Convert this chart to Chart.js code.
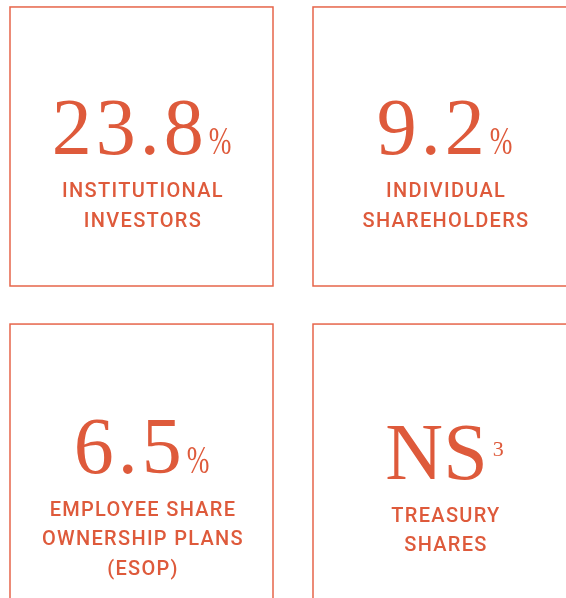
<!DOCTYPE html>
<html>
<head>
<meta charset="utf-8">
<script src="https://cdn.jsdelivr.net/npm/chart.js@4.4.1/dist/chart.umd.min.js"></script>
<style>
  html, body { margin: 0; padding: 0; background: #fff; }
  canvas { display: block; }
</style>
</head>
<body>
<canvas id="sharesChart" width="566" height="598"></canvas>
<script>
// shareholder structure tiles
const categories = [
  ['INSTITUTIONAL', 'INVESTORS'],
  ['INDIVIDUAL', 'SHAREHOLDERS'],
  ['EMPLOYEE SHARE', 'OWNERSHIP PLANS', '(ESOP)'],
  ['TREASURY', 'SHARES']
]
const values = ['23.8', '9.2', '6.5', 'NS']
const suffixes = ['%', '%', '%', '3']
const gridCols = [0, 1, 0, 1]
const gridRows = [0, 0, 1, 1]

const ACCENT = '#de5a3b'
const BORDER = '#e6654a'

// half of a tile in scale units
const TILE_HALF_X = 0.434
const TILE_HALF_Y = 0.44
// small vertical tweaks per tile (px)
const nudge = [0, 0, 1, 7]

const tilesPlugin = {
  id: 'tiles',
  afterDatasetsDraw(chart) {
    const ctx = chart.ctx
    const xs = chart.scales.x
    const ys = chart.scales.y
    const meta = chart.getDatasetMeta(0)

    meta.data.forEach((pt, i) => {
      const col = gridCols[i]
      const row = gridRows[i]
      const left = xs.getPixelForValue(col - TILE_HALF_X)
      const right = xs.getPixelForValue(col + TILE_HALF_X)
      const top = ys.getPixelForValue(row - TILE_HALF_Y)
      const bottom = ys.getPixelForValue(row + TILE_HALF_Y)

      ctx.save()
      ctx.strokeStyle = BORDER
      ctx.lineWidth = 1.5
      ctx.strokeRect(left, top, right - left, bottom - top)

      const cx = pt.x
      const base = pt.y + 8 + nudge[i]
      const isNote = suffixes[i] !== '%'

      // big number
      ctx.fillStyle = ACCENT
      ctx.textBaseline = 'alphabetic'
      ctx.textAlign = 'left'
      ctx.font = '80px "Liberation Serif", serif'
      ctx.letterSpacing = isNote ? '0px' : '4px'
      const numW = ctx.measureText(values[i]).width - (isNote ? 0 : 4)

      let sufW, sufScale, gap
      if (isNote) {
        ctx.font = '22px "Liberation Serif", serif'
        ctx.letterSpacing = '0px'
        sufScale = 1
        sufW = ctx.measureText(suffixes[i]).width
        gap = 5
      } else {
        ctx.font = '40px "Liberation Serif", serif'
        ctx.letterSpacing = '0px'
        sufScale = 0.68
        sufW = ctx.measureText(suffixes[i]).width * sufScale
        gap = 5
      }

      const startX = cx - (numW + gap + sufW) / 2
      ctx.font = '80px "Liberation Serif", serif'
      ctx.letterSpacing = isNote ? '0px' : '4px'
      ctx.fillText(values[i], startX, base)

      ctx.letterSpacing = '0px'
      if (isNote) {
        ctx.font = '22px "Liberation Serif", serif'
        ctx.fillText(suffixes[i], startX + numW + gap, base - 23)
      } else {
        ctx.font = '40px "Liberation Serif", serif'
        ctx.save()
        ctx.translate(startX + numW + gap, base)
        ctx.scale(sufScale, 1)
        ctx.fillText(suffixes[i], 0, 0)
        ctx.restore()
      }

      // caption lines
      ctx.font = '500 20px Roboto, sans-serif'
      ctx.letterSpacing = '1.3px'
      ctx.textAlign = 'center'
      categories[i].forEach((line, j) => {
        ctx.fillText(line, cx + 1.5, base + 43 + j * 29.5)
      })
      ctx.restore()
    })
  }
}

new Chart(document.getElementById('sharesChart'), {
  type: 'scatter',
  data: {
    datasets: [
      {
        data: gridCols.map((c, i) => ({ x: c, y: gridRows[i] })),
        pointRadius: 0,
        pointHoverRadius: 0
      }
    ]
  },
  options: {
    responsive: false,
    animation: false,
    events: [],
    layout: { padding: 0 },
    scales: {
      x: { type: 'linear', display: false, min: -0.467, max: 1.401 },
      y: { type: 'linear', display: false, reverse: true, min: -0.462, max: 1.424 }
    },
    plugins: {
      legend: { display: false },
      tooltip: { enabled: false }
    }
  },
  plugins: [tilesPlugin]
})
</script>
</body>
</html>
